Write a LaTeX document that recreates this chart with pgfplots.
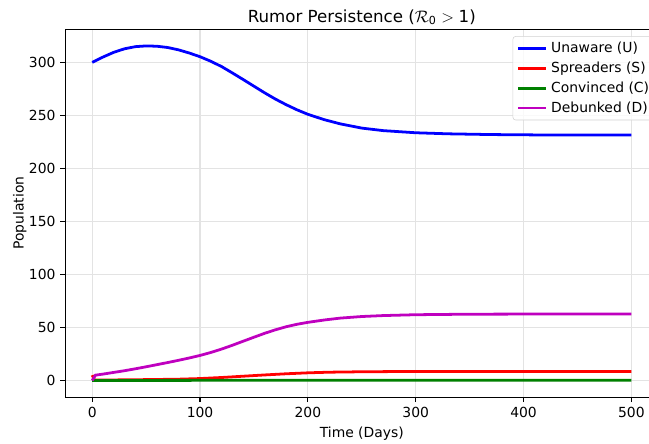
\documentclass[border=0pt]{standalone}
\usepackage{fontspec}
\setmainfont{DejaVu Sans}
\usepackage{pgfplots}
\pgfplotsset{compat=1.18}
\definecolor{mplgreen}{RGB}{0,128,0}
\definecolor{mplmag}{RGB}{191,0,191}
\begin{document}
\begin{tikzpicture}
\begin{axis}[
  at={(0,0)}, anchor=south west,
  scale only axis, width=427pt, height=265pt,
  xmin=-25, xmax=525, ymin=-15.8, ymax=331.3,
  xtick={0,100,...,500}, ytick={0,50,...,300},
  tick align=outside, xtick pos=bottom, ytick pos=left,
  major tick length=3.5pt,
  tick style={black, line width=0.8pt},
  axis line style={line width=0.8pt, black},
  grid=major, grid style={gray!22, line width=0.8pt},
  /pgf/number format/assume math mode=true,
  ticklabel style={font=\fontsize{10}{12}\selectfont},
  xlabel={Time (Days)}, ylabel={Population},
  label style={font=\fontsize{10}{12}\selectfont},
  ylabel style={yshift=-5pt},
  title={Rumor Persistence ($\mathcal{R}_{\mathrm{0}} \mathrel{\mathrm{>}} \mathrm{1}$)},
  title style={font=\fontsize{12}{14}\selectfont, yshift=-6.5pt},
  legend style={at={(0.998,0.981)}, anchor=north east, draw=gray!35,
    rounded corners=2pt, fill=white, fill opacity=0.8, text opacity=1,
    font=\fontsize{10}{12}\selectfont, nodes={inner sep=2.6pt},
    inner xsep=3pt, inner ysep=1.5pt},
  legend cell align=left,
  legend image code/.code={\draw[#1, line width=2pt] (0pt,0pt) -- (20pt,0pt);},
  every axis plot/.append style={line width=2pt},
]
% Unaware
\addplot[blue] coordinates {
(0,300) (10,305) (20,309.5) (30,312.8) (40,314.8) (50,315.5) (60,315.2)
(70,314) (80,311.8) (90,308.8) (100,305.3) (110,301) (120,296) (130,290)
(140,283.8) (150,277.5) (160,271.2) (170,265.3) (180,260) (190,255.2)
(200,251) (215,246) (230,242) (250,238) (270,235.6) (300,233.6) (330,232.6)
(370,231.9) (420,231.5) (500,231.4)};
\addlegendentry{Unaware (U)}
% Spreaders
\addplot[red] coordinates {
(0,5) (2,0.5) (20,0.5) (50,0.8) (80,1.2) (100,1.8) (120,2.8) (140,4)
(160,5.2) (180,6.3) (200,7.2) (220,7.8) (250,8.2) (300,8.5) (500,8.5)};
\addlegendentry{Spreaders (S)}
% Convinced
\addplot[mplgreen] coordinates {(0,0) (100,0.1) (200,0.2) (500,0.2)};
\addlegendentry{Convinced (C)}
% Debunked
\addplot[mplmag] coordinates {
(0,0) (3,5) (10,6) (20,7.6) (30,9.2) (40,11) (50,12.9) (60,14.9) (70,16.9)
(80,19) (90,21.2) (100,23.6) (110,26.4) (120,29.6) (130,33.2) (140,37)
(150,40.8) (160,44.5) (170,47.8) (180,50.7) (190,53) (200,54.8) (215,57)
(230,58.8) (250,60.3) (270,61.2) (300,62) (350,62.5) (400,62.6) (500,62.6)};
\addlegendentry{Debunked (D)}
\end{axis}
\pgfresetboundingbox
\useasboundingbox (-47pt,-33pt) rectangle (420.3pt,286pt);
\end{tikzpicture}
\end{document}
